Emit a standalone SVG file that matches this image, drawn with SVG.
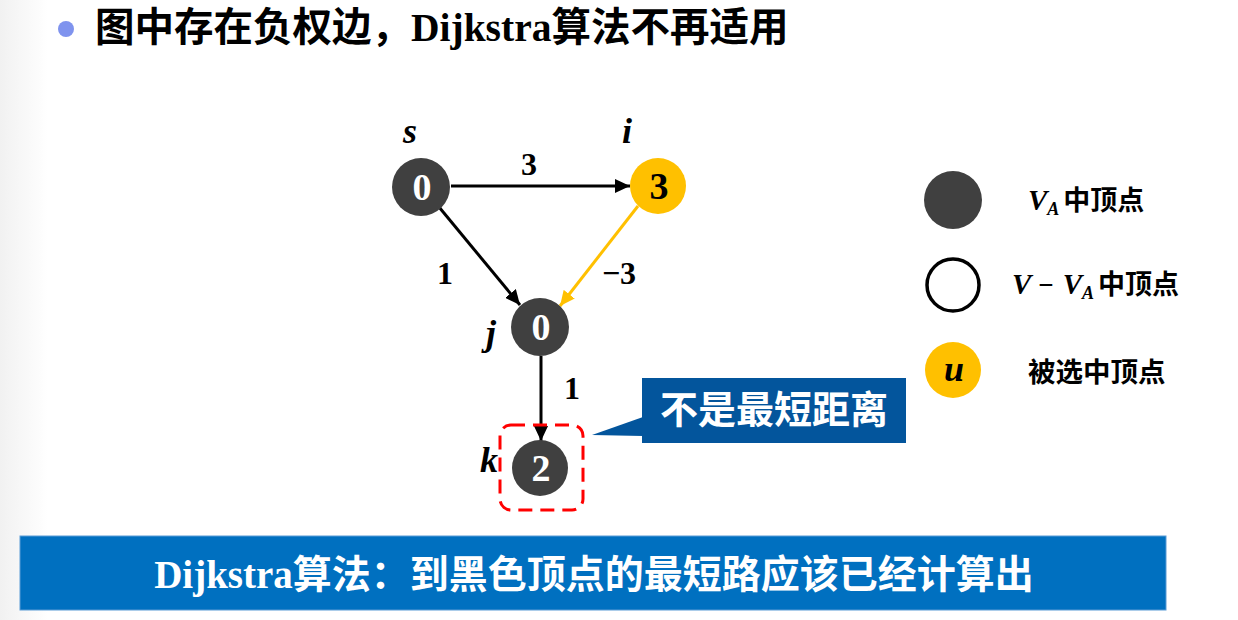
<svg xmlns="http://www.w3.org/2000/svg" width="1238" height="620" viewBox="0 0 1238 620">
<defs>
<linearGradient id="bg" x1="0" y1="0" x2="1" y2="0">
<stop offset="0" stop-color="#f1f1f1"/>
<stop offset="1" stop-color="#ffffff"/>
</linearGradient>
<marker id="ah" markerUnits="userSpaceOnUse" markerWidth="16" markerHeight="14" refX="15" refY="7" orient="auto">
<path d="M0,0 L15,7 L0,14 Z" fill="#000"/>
</marker>
<marker id="ahy" markerUnits="userSpaceOnUse" markerWidth="16" markerHeight="14" refX="15" refY="7" orient="auto">
<path d="M0,0 L15,7 L0,14 Z" fill="#FFC000"/>
</marker>
<style>
.dark{fill:#404040}
.yel{fill:#FFC000}
.num{font-family:"Liberation Serif","Noto Sans CJK SC",serif;font-weight:bold;font-size:38px;text-anchor:middle}
.lbl{font-family:"Liberation Serif",serif;font-weight:bold;font-style:italic;font-size:36px;text-anchor:middle}
.elbl{font-family:"Liberation Serif",serif;font-weight:bold;font-size:32px;text-anchor:middle}
.cjk{font-family:"Liberation Serif","Noto Sans CJK SC",sans-serif;font-weight:bold}
.edge{stroke:#000;stroke-width:3;fill:none}
</style>
</defs>
<rect x="0" y="0" width="1238" height="620" fill="#fff"/>
<rect x="0" y="0" width="48" height="620" fill="url(#bg)"/>

<g id="title">
<circle cx="66" cy="29" r="8" fill="#7f93ee"/>
<text x="95" y="41" class="cjk" font-size="39.5" fill="#000">图中存在负权边，Dijkstra算法不再适用</text>
</g>

<g id="connectors">
<line class="edge" x1="451" y1="186" x2="630" y2="186" marker-end="url(#ah)"/>
<line class="edge" x1="439" y1="207" x2="520" y2="305" marker-end="url(#ah)"/>
<line x1="638" y1="206" x2="560" y2="306" stroke="#FFC000" stroke-width="3" marker-end="url(#ahy)"/>
<line class="edge" x1="541" y1="356" x2="541" y2="441" marker-end="url(#ah)"/>
<text x="529" y="175" class="elbl">3</text>
<text x="445" y="284" class="elbl">1</text>
<text x="619" y="284" class="elbl">−3</text>
<text x="572" y="399" class="elbl">1</text>
</g>

<g id="node-s">
<circle cx="421" cy="187" r="29" class="dark"/>
<text x="422" y="200" class="num" fill="#fff">0</text>
<text x="410" y="143" class="lbl">s</text>
</g>
<g id="node-i">
<circle cx="658" cy="186" r="28" class="yel"/>
<text x="659" y="199" class="num" fill="#000">3</text>
<text x="627" y="143" class="lbl">i</text>
</g>
<g id="node-j">
<circle cx="540" cy="327" r="29" class="dark"/>
<text x="541" y="340" class="num" fill="#fff">0</text>
<text x="491" y="345" class="lbl">j</text>
</g>
<g id="node-k">
<circle cx="540" cy="468" r="28" class="dark"/>
<text x="541" y="481" class="num" fill="#fff">2</text>
<text x="489" y="472" class="lbl">k</text>
</g>

<g id="highlight">
<rect x="500" y="425" width="83" height="85" rx="11" ry="11" fill="none" stroke="#ff0000" stroke-width="3" stroke-dasharray="14 8"/>
</g>

<g id="callout">
<path d="M592,435 L643,417 L643,436 Z" fill="#03559c"/>
<rect x="642" y="378" width="264" height="65" fill="#03559c"/>
<text x="774" y="423" class="cjk" font-size="38" fill="#fff" text-anchor="middle">不是最短距离</text>
</g>

<g id="legend">
<circle cx="953" cy="200" r="29" class="dark"/>
<text x="1028" y="210" class="cjk" font-size="27"><tspan font-family="Liberation Serif" font-style="italic" font-size="29">V</tspan><tspan font-family="Liberation Serif" font-style="italic" font-size="18" dy="5">A</tspan><tspan dy="-5" dx="4">中顶点</tspan></text>
<circle cx="953" cy="285" r="26" fill="#fff" stroke="#000" stroke-width="3.5"/>
<text x="1012" y="294" class="cjk" font-size="27"><tspan font-family="Liberation Serif" font-style="italic" font-size="29">V</tspan><tspan font-family="Liberation Serif" dx="7">−</tspan><tspan font-family="Liberation Serif" font-style="italic" font-size="29" dx="9">V</tspan><tspan font-family="Liberation Serif" font-style="italic" font-size="18" dy="5">A</tspan><tspan dy="-5" dx="4">中顶点</tspan></text>
<circle cx="953" cy="370" r="28" class="yel"/>
<text x="954" y="381" class="lbl" font-size="34">u</text>
<text x="1028" y="382" class="cjk" font-size="27.5">被选中顶点</text>
</g>

<g id="banner">
<rect x="20" y="536" width="1146" height="74" fill="#0070C0" stroke="#5b9bd5" stroke-width="1"/>
<text x="594" y="588" class="cjk" font-size="39" fill="#fff" text-anchor="middle">Dijkstra算法：到黑色顶点的最短路应该已经计算出</text>
</g>
</svg>
